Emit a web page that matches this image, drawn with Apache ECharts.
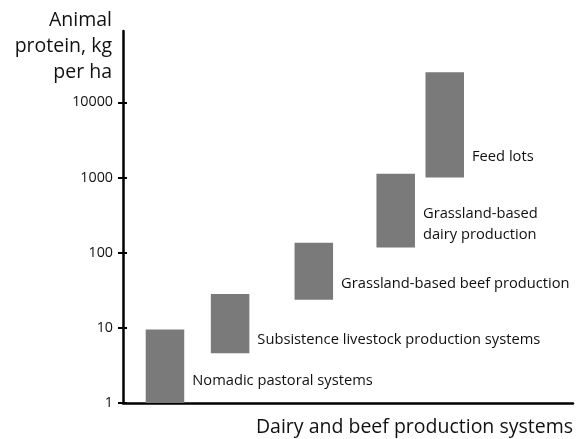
<!DOCTYPE html>
<html><head><meta charset="utf-8">
<script src="https://cdn.jsdelivr.net/npm/echarts@6/dist/echarts.min.js"></script>
<style>html,body{margin:0;padding:0;background:#fff}#c{width:579px;height:439px}</style>
</head><body><div id="c"></div>
<script>
// ---- data ----
const systems = ['Nomadic pastoral systems', 'Subsistence livestock production systems', 'Grassland-based beef production', 'Grassland-based\ndairy production', 'Feed lots'];
const lowValues = [1, 4.6, 23.7, 117, 1000];
const highValues = [9.5, 28.2, 136, 1125, 25100];
const yTicks = [1, 10, 100, 1000, 10000];
const yTitle = 'Animal\nprotein, kg\nper ha';
const xTitle = 'Dairy and beef production systems';
// ---- layout (data-unit placement along the unlabeled x axis) ----
const xPositions = [9.33, 23.8, 42.4, 60.6, 71.5];
const labelLevels = [1.98, 6.95, 38.7, 239, 1911];
const barWidthUnits = 8.56;

const FONT = '"Open Sans", "Liberation Sans", sans-serif';
const chart = echarts.init(document.getElementById('c'), null, {renderer: 'canvas'});
const seriesData = systems.map((s, i) => [xPositions[i], lowValues[i], highValues[i], labelLevels[i]]);

chart.setOption({
  animation: false,
  backgroundColor: '#fff',
  graphic: [{
    type: 'text', x: 112, y: 7,
    style: {text: yTitle, align: 'right', verticalAlign: 'top', font: '19.5px ' + FONT, fill: '#111', lineHeight: 26}
  }],
  grid: {left: 123, right: 6, top: 31, bottom: 36},
  xAxis: {
    type: 'value', min: 0, max: 100,
    axisLine: {show: true, lineStyle: {color: '#000', width: 2.5}},
    axisTick: {show: false}, axisLabel: {show: false}, splitLine: {show: false},
    name: xTitle, nameLocation: 'end', nameGap: 0,
    nameTextStyle: {fontFamily: FONT, fontSize: 19.5, color: '#111', align: 'right', verticalAlign: 'top', padding: [14, 0, 0, 0]}
  },
  yAxis: [{
    type: 'log', logBase: 10, min: 1, max: 89000, position: 'left',
    axisLine: {show: true, lineStyle: {color: '#000', width: 2.5}},
    axisTick: {show: true, length: 5, customValues: yTicks, lineStyle: {color: '#000', width: 2}},
    axisLabel: {show: true, customValues: yTicks, margin: 10, fontFamily: FONT, fontSize: 14.3, color: '#111',
      formatter: function (v) { return String(Math.round(v)); }},
    splitLine: {show: false}
  }, {
    type: 'log', logBase: 10, min: 1, max: 89000, position: 'left',
    axisLine: {show: false},
    axisTick: {show: true, inside: true, length: 4, customValues: yTicks, lineStyle: {color: '#000', width: 2}},
    axisLabel: {show: false}, splitLine: {show: false}
  }],
  series: [{
    type: 'custom',
    xAxisIndex: 0, yAxisIndex: 0,
    data: seriesData,
    renderItem: function (params, api) {
      const x = api.value(0), lo = api.value(1), hi = api.value(2), ly = api.value(3);
      const pTop = api.coord([x, hi]);
      const pBot = api.coord([x, lo]);
      const pLab = api.coord([x, ly]);
      const w = api.size([barWidthUnits, 1])[0];
      return {
        type: 'group',
        children: [{
          type: 'rect',
          shape: {x: pTop[0] - w / 2, y: pTop[1], width: w, height: pBot[1] - pTop[1]},
          style: {fill: '#7a7a7a'}
        }, {
          type: 'text',
          x: pTop[0] + w / 2 + 8, y: pLab[1],
          style: {text: systems[params.dataIndex], fill: '#111', font: '14.7px ' + FONT, align: 'left', verticalAlign: 'middle', lineHeight: 21}
        }]
      };
    }
  }]
});
</script></body></html>
